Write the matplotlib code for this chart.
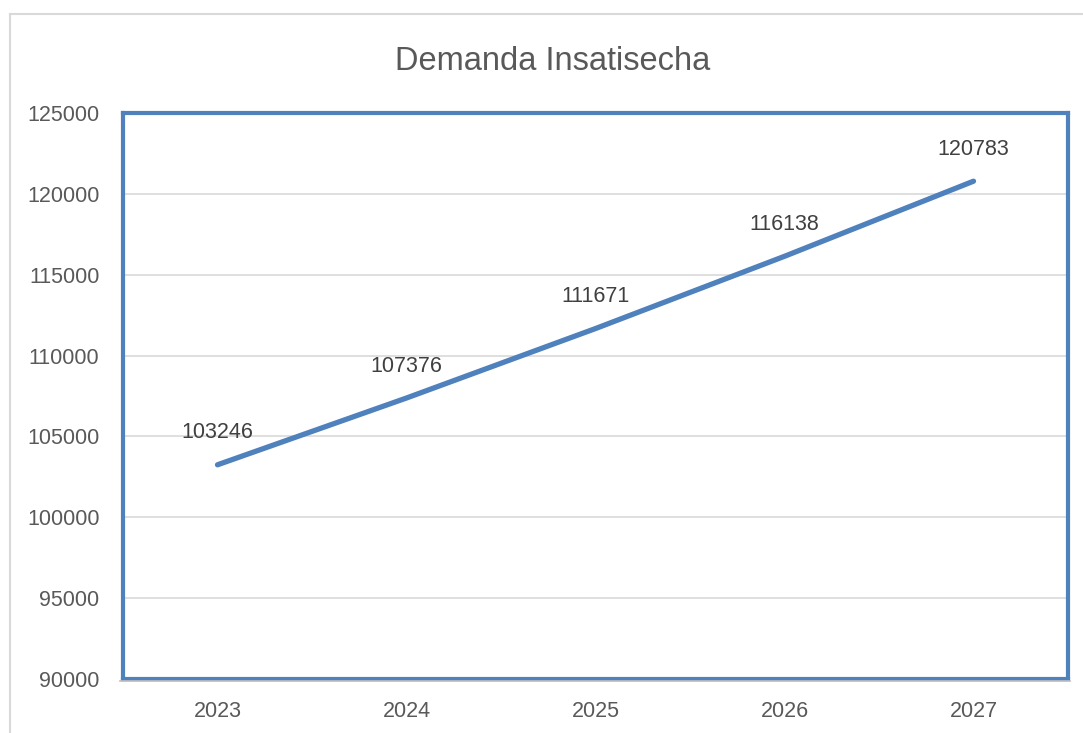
import matplotlib.pyplot as plt
from matplotlib.lines import Line2D

anios = ['2023', '2024', '2025', '2026', '2027']
demanda = [103246, 107376, 111671, 116138, 120783]
yticks = [90000, 95000, 100000, 105000, 110000, 115000, 120000, 125000]

W, H = 1083, 733
azul = '#4F81BD'

plt.rcParams['font.family'] = ['Liberation Sans', 'DejaVu Sans']

fig = plt.figure(figsize=(W / 100, H / 100), dpi=100)

# marco exterior del grafico
fig.add_artist(Line2D([10 / W, 10 / W], [0, 1 - 14 / H], color='#D9D9D9', lw=1.5))
fig.add_artist(Line2D([10 / W, 1], [1 - 14 / H, 1 - 14 / H], color='#D9D9D9', lw=1.5))

ax = fig.add_axes([123 / W, 1 - 679 / H, 945 / W, 566 / H])
x = list(range(len(anios)))
ax.plot(x, demanda, color=azul, lw=3.8, solid_capstyle='round', zorder=3)
for xi, v in zip(x, demanda):
    ax.annotate(str(v), (xi, v), xytext=(0, 23), textcoords='offset points',
                ha='center', va='center', fontsize=15.5, color='#404040')

ax.set_xlim(-0.5, 4.5)
ax.set_ylim(90000, 125000)
ax.set_yticks(yticks)
ax.set_yticklabels([str(t) for t in yticks])
ax.set_xticks(x)
ax.set_xticklabels(anios)
ax.tick_params(length=0, labelsize=15.5, labelcolor='#595959')
ax.tick_params(axis='y', pad=17)
ax.tick_params(axis='x', pad=16)
ax.grid(axis='y', color='#D9D9D9', lw=1.2)
ax.set_axisbelow(True)
for s in ax.spines.values():
    s.set_color(azul)
    s.set_linewidth(3)

# linea del eje horizontal
fig.add_artist(Line2D([120 / W, 1070 / W], [1 - 681 / H, 1 - 681 / H], color='#BFBFBF', lw=1.2))

fig.text(553 / W, 1 - 62 / H, 'Demanda Insatisecha', ha='center', va='center',
         fontsize=23.5, color='#595959')

fig.savefig('out.png', dpi=100)
